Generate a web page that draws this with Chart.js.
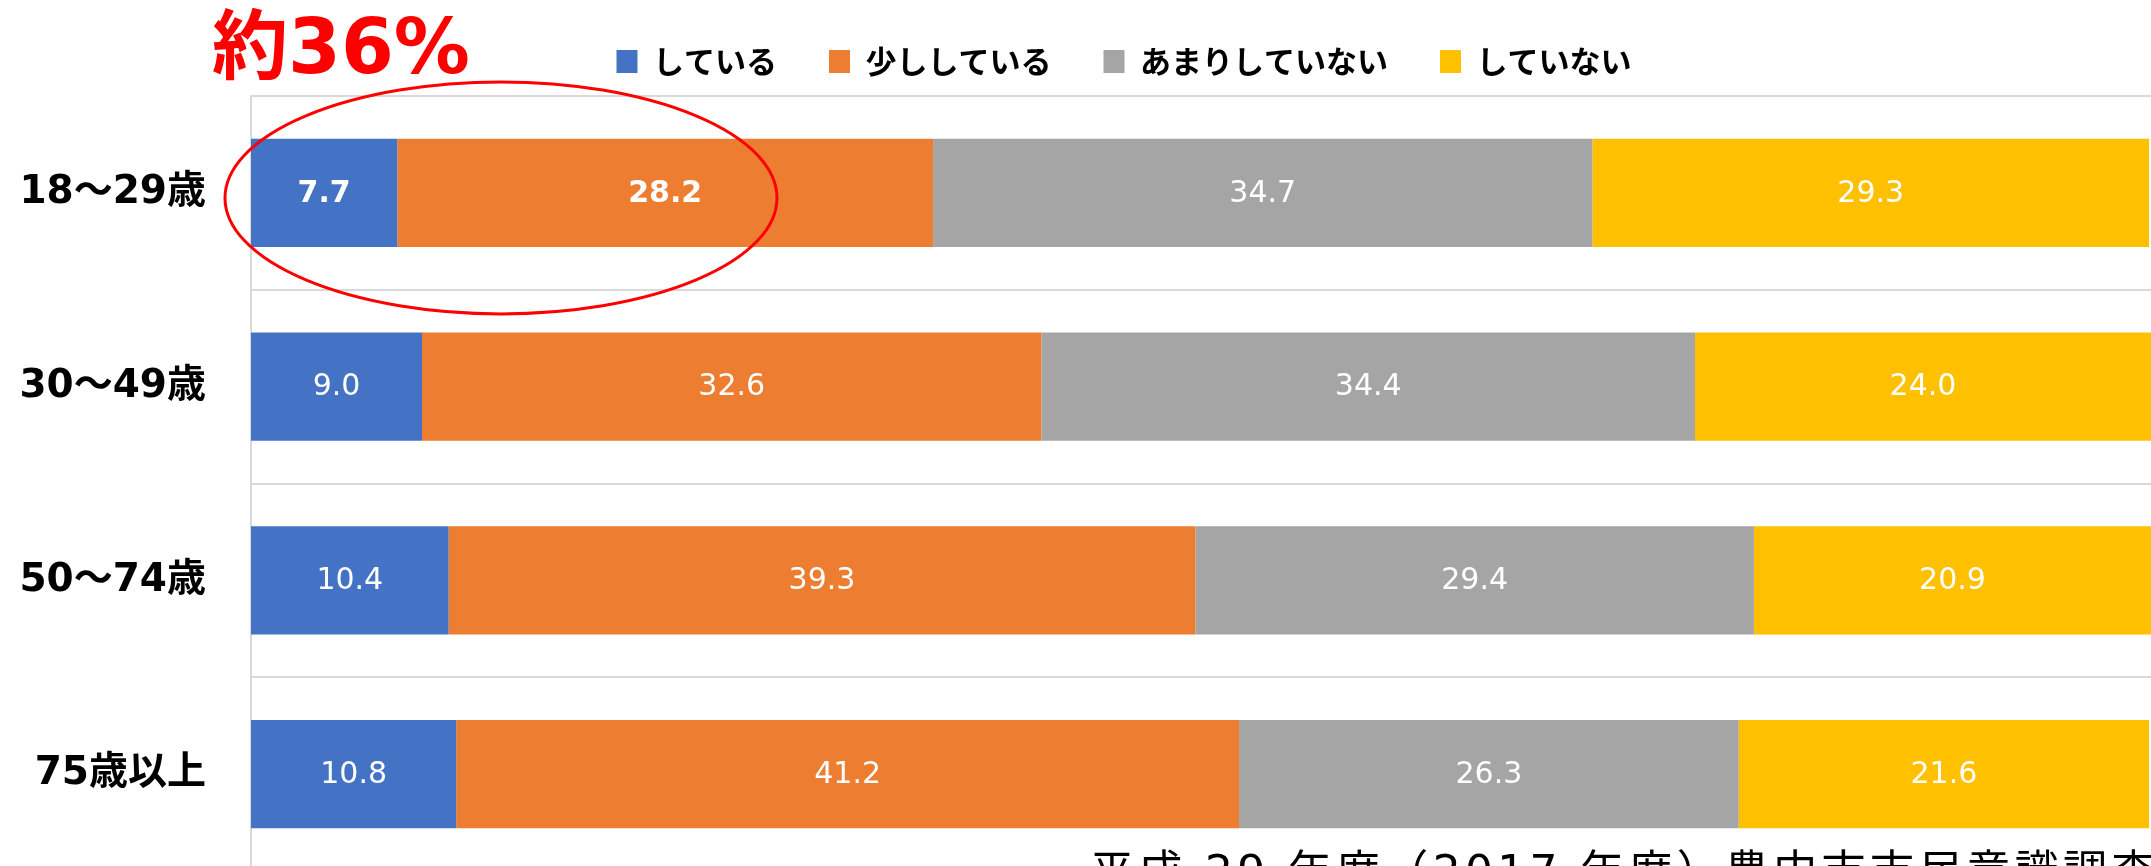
<!DOCTYPE html>
<html lang="ja">
<head>
    <meta charset="UTF-8">
    <title>年代別グラフ</title>
    <style>
        html, body { margin: 0; padding: 0; overflow: hidden; background: #fff; }
        #wrap { width: 2151px; height: 871px; }
    </style>
</head>
<body>
    <div id="wrap">
        <canvas id="myChart" width="2151" height="871"></canvas>
    </div>
    <script src="https://cdn.jsdelivr.net/npm/chart.js"></script>
    <script>
        // カテゴリと各系列の値（％）
        const ageGroups = ['18〜29歳', '30〜49歳', '50〜74歳', '75歳以上'];
        const seriesNames = ['している', '少ししている', 'あまりしていない', 'していない'];
        const doing = [7.7, 9.0, 10.4, 10.8];
        const doingLittle = [28.2, 32.6, 39.3, 41.2];
        const notMuch = [34.7, 34.4, 29.4, 26.3];
        const notDoing = [29.3, 24.0, 20.9, 21.6];

        const seriesColors = ['#4472C4', '#ED7D31', '#A5A5A5', '#FFC000'];
        const noteText = '約36%';
        const sourceText = '平成 29 年度（2017 年度）豊中市市民意識調査';
        // 太字で表示するラベル [系列, カテゴリ]
        const boldLabels = [[0, 0], [1, 0]];

        const CJK = '"Noto Sans CJK JP", "Noto Sans CJK SC", sans-serif';

        // 凡例の高さと位置を調整
        const legendSpace = {
            id: 'legendSpace',
            beforeInit(chart) {
                if (!chart.legend) return;
                const fit = chart.legend.fit;
                chart.legend.fit = function () {
                    fit.bind(chart.legend)();
                    this.height = 96;
                };
            },
            afterLayout(chart) {
                if (!chart.legend) return;
                chart.legend.left = 97;
                chart.legend.top = -6;
            }
        };

        // 棒の中の値ラベル
        const valueLabels = {
            id: 'valueLabels',
            afterDatasetsDraw(chart) {
                const c = chart.ctx;
                c.save();
                c.fillStyle = '#fff';
                c.textAlign = 'center';
                c.textBaseline = 'middle';
                chart.data.datasets.forEach((ds, di) => {
                    const meta = chart.getDatasetMeta(di);
                    meta.data.forEach((bar, i) => {
                        const p = bar.getProps(['x', 'y', 'base'], true);
                        const bold = boldLabels.some(b => b[0] === di && b[1] === i);
                        c.font = (bold ? 'bold ' : '') + '30px "DejaVu Sans", sans-serif';
                        c.fillText(ds.data[i].toFixed(1), (p.x + p.base) / 2, p.y + 1);
                    });
                });
                c.restore();
            }
        };

        // 注記（約36%と赤い楕円）と出典
        const notes = {
            id: 'notes',
            afterDraw(chart) {
                const c = chart.ctx;
                const y = chart.scales.y;
                const cy = y.getPixelForValue(0) + 5;
                c.save();
                c.strokeStyle = '#FF0000';
                c.lineWidth = 3;
                c.beginPath();
                c.ellipse(501, cy, 276, 116, 0, 0, Math.PI * 2);
                c.stroke();

                c.fillStyle = '#FF0000';
                c.textAlign = 'left';
                c.textBaseline = 'alphabetic';
                c.font = 'bold 76px "DejaVu Sans", ' + CJK;
                c.fillText(noteText, 212, 73);

                c.fillStyle = '#000';
                c.font = '44px "DejaVu Sans", ' + CJK;
                c.letterSpacing = '4.3px';
                c.fillText(sourceText, 1090, 887);
                c.restore();
            }
        };

        const ctx = document.getElementById('myChart').getContext('2d');
        const myChart = new Chart(ctx, {
            type: 'bar',
            data: {
                labels: ageGroups,
                datasets: [doing, doingLittle, notMuch, notDoing].map((vals, k) => ({
                    label: seriesNames[k],
                    data: vals,
                    backgroundColor: seriesColors[k],
                    borderWidth: 0,
                    barPercentage: 0.558,
                    categoryPercentage: 1
                }))
            },
            options: {
                indexAxis: 'y',
                responsive: false,
                animation: false,
                devicePixelRatio: 1,
                layout: { padding: 0 },
                plugins: {
                    legend: {
                        position: 'top',
                        align: 'center',
                        labels: {
                            boxWidth: 21,
                            boxHeight: 23,
                            padding: 52,
                            color: '#000',
                            font: { family: CJK, size: 31, weight: 'bold' }
                        }
                    },
                    tooltip: { enabled: false }
                },
                scales: {
                    x: {
                        stacked: true,
                        display: false,
                        min: 0,
                        max: 100
                    },
                    y: {
                        stacked: true,
                        afterFit(scale) {
                            scale.width = 251;
                            scale.paddingTop = 0;
                            scale.paddingBottom = 0;
                        },
                        grid: {
                            color: '#D9D9D9',
                            lineWidth: 2,
                            drawTicks: false
                        },
                        border: { display: true, color: '#D9D9D9', width: 2 },
                        ticks: {
                            padding: 45,
                            color: '#000',
                            font: { family: '"DejaVu Sans", ' + CJK, size: 39, weight: 'bold' }
                        }
                    }
                }
            },
            plugins: [legendSpace, valueLabels, notes]
        });
    </script>
</body>
</html>
